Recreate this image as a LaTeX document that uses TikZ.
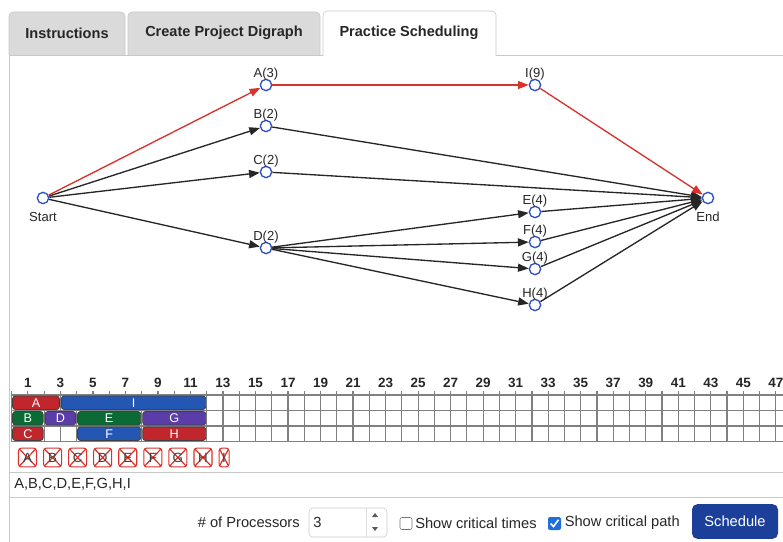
\documentclass[tikz,border=0pt]{standalone}
\usepackage{fontspec}
\setmainfont{Liberation Sans}
\usetikzlibrary{arrows.meta,positioning}

\definecolor{tabgray}{HTML}{DADADA}
\definecolor{linegray}{HTML}{C8C8C8}
\definecolor{nodeblue}{HTML}{3050C8}
\definecolor{critred}{HTML}{D9312B}
\definecolor{barred}{HTML}{C0262C}
\definecolor{barblue}{HTML}{2456B4}
\definecolor{bargreen}{HTML}{0B6B35}
\definecolor{barpurple}{HTML}{5A3DA8}
\definecolor{btnblue}{HTML}{1C409A}
\definecolor{checkblue}{HTML}{1E6FD9}

\begin{document}
\begin{tikzpicture}[x=0.75pt, y=-0.75pt,
  event/.style={circle, draw=nodeblue, line width=1pt, minimum size=8.5pt, inner sep=0pt},
  evlabel/.style={font=\fontsize{9.8}{11}\selectfont, text=black!85, inner sep=0.5pt},
  act/.style={draw=black!85, line width=1pt, -{Triangle[length=8pt,width=6pt]}},
  crit/.style={act, draw=critred},
  tabtext/.style={font=\fontsize{10.9}{13}\selectfont\bfseries, text=black!85},
  gridline/.style={draw=black!50, line width=0.9pt},
  tick/.style={font=\fontsize{10.1}{12}\selectfont\bfseries, text=black!85, inner sep=0pt},
  bar/.style={draw=black!75, line width=0.6pt, rounded corners=2pt, minimum height=10.1pt, inner sep=0pt, text=white, font=\fontsize{9.5}{11}\selectfont},
  done/.style={draw=critred, line width=0.8pt, rounded corners=2pt, minimum width=13.5pt, minimum height=14pt, inner sep=0pt, text=black!75, font=\fontsize{10}{11}\selectfont,
    path picture={\draw[critred, line width=0.9pt] (path picture bounding box.north west) -- (path picture bounding box.south east) (path picture bounding box.south west) -- (path picture bounding box.north east);}},
  ctl/.style={font=\fontsize{11}{13}\selectfont, text=black!85, inner sep=0pt}]
\useasboundingbox (0,0) rectangle (783,542);
\clip (0,0) rectangle (783,542);

\draw[linegray] (9,542) -- (9,55) -- (783,55);
\filldraw[fill=tabgray, draw=linegray, rounded corners=3pt] (9,55) -- (9,12) -- (125,12) -- (125,55);
\filldraw[fill=tabgray, draw=linegray, rounded corners=3pt] (128,55) -- (128,12) -- (320,12) -- (320,55);
\filldraw[fill=white, draw=linegray, rounded corners=3pt] (323,56) -- (323,11) -- (496,11) -- (496,56);
\node[tabtext] (tabinstr) at (67,33) {Instructions};
\node[tabtext] (tabdigraph) at (224,33) {Create Project Digraph};
\node[tabtext] (tabpractice) at (409,33) {Practice Scheduling};

\node[event, label={[evlabel, label distance=5pt]below:Start}] (start) at (43,198) {};
\node[event, label={[evlabel, label distance=-2pt]above:A(3)}] (A) at (266,85) {};
\node[event, label={[evlabel, label distance=-2pt]above:B(2)}] (B) at (266,126) {};
\node[event, label={[evlabel, label distance=-2pt]above:C(2)}] (C) at (266,172) {};
\node[event, label={[evlabel, label distance=-2pt]above:D(2)}] (D) at (266,248) {};
\node[event, label={[evlabel, label distance=-2pt]above:I(9)}] (I) at (535,85) {};
\node[event, label={[evlabel, label distance=-2pt]above:E(4)}] (E) at (535,212) {};
\node[event, label={[evlabel, label distance=-2pt]above:F(4)}] (F) at (535,242) {};
\node[event, label={[evlabel, label distance=-2pt]above:G(4)}] (G) at (535,269) {};
\node[event, label={[evlabel, label distance=-2pt]above:H(4)}] (H) at (535,305) {};
\node[event, label={[evlabel, label distance=5pt]below:End}] (fin) at (708,198) {};

\foreach \a/\b in {start/B, start/C, start/D, B/fin, C/fin, D/E, D/F, D/G, D/H, E/fin, F/fin, G/fin, H/fin}
  \draw[act] (\a) -- (\b);
\foreach \a/\b in {start/A, A/I, I/fin}
  \draw[crit] (\a) -- (\b);

\foreach \k in {0,...,47}
  \draw[gridline] ({11.6+16.26*\k},391) -- ({11.6+16.26*\k},441.5);
\foreach \y in {395,410.5,426,441.5}
  \draw[gridline] (11.6,\y) -- (783,\y);
\foreach \k in {1,3,...,47}
  \node[tick] (num\k) at ({11.6+16.26*\k},383) {\k};
\foreach \nm/\s/\e/\r/\c in {A/1/3/1/barred, I/4/12/1/barblue, B/1/2/2/bargreen, D/3/4/2/barpurple, E/5/8/2/bargreen, G/9/12/2/barpurple, C/1/2/3/barred, F/5/8/3/barblue, H/9/12/3/barred}
  \node[bar, fill=\c, minimum width={((\e-\s+1)*16.26-2)*0.75pt}] (bar\nm) at ({11.6+16.26*(\s+\e-1)/2},{395+15.5*(\r-0.5)}) {\nm};

\node[done] (xA) at (27.5,457.5) {A};
\foreach \p/\q in {A/B, B/C, C/D, D/E, E/F, F/G, G/H}
  \node[done, right=4.5pt of x\p] (x\q) {\q};
\node[done, minimum width=7.5pt, right=4.5pt of xH] (xI) {I};

\draw[linegray] (9,472) rectangle (790,497);
\node[ctl, anchor=west] (order) at (14,484.5) {A,B,C,D,E,F,G,H,I};

\node[ctl, anchor=east] (nproc) at (300,522.5) {\# of Processors};
\draw[linegray, rounded corners=3pt] (309,508) rectangle (387,537);
\draw[linegray!60] (366,508) -- (366,537);
\node[ctl, anchor=west] (nval) at (313,522.5) {3};
\fill[black!65] (372,517) -- (378,517) -- (375,513) -- cycle;
\fill[black!65] (372,527) -- (378,527) -- (375,531) -- cycle;
\draw[black!55, rounded corners=1.5pt] (400,517.5) rectangle (412,529.5);
\node[ctl, anchor=west] (crittimes) at (415,523) {Show critical times};
\fill[checkblue, rounded corners=1.5pt] (548,517) rectangle (561,530);
\draw[white, line width=1.2pt] (550.5,523.5) -- (553.5,526.5) -- (558.5,519.8);
\node[ctl, anchor=west] (critpath) at (564.5,523) {Show critical path};
\node[fill=btnblue, rounded corners=4pt, text=white, font=\fontsize{11}{13}\selectfont, minimum width=64.5pt, minimum height=26pt] (sched) at (735,521.5) {Schedule};
\end{tikzpicture}
\end{document}
